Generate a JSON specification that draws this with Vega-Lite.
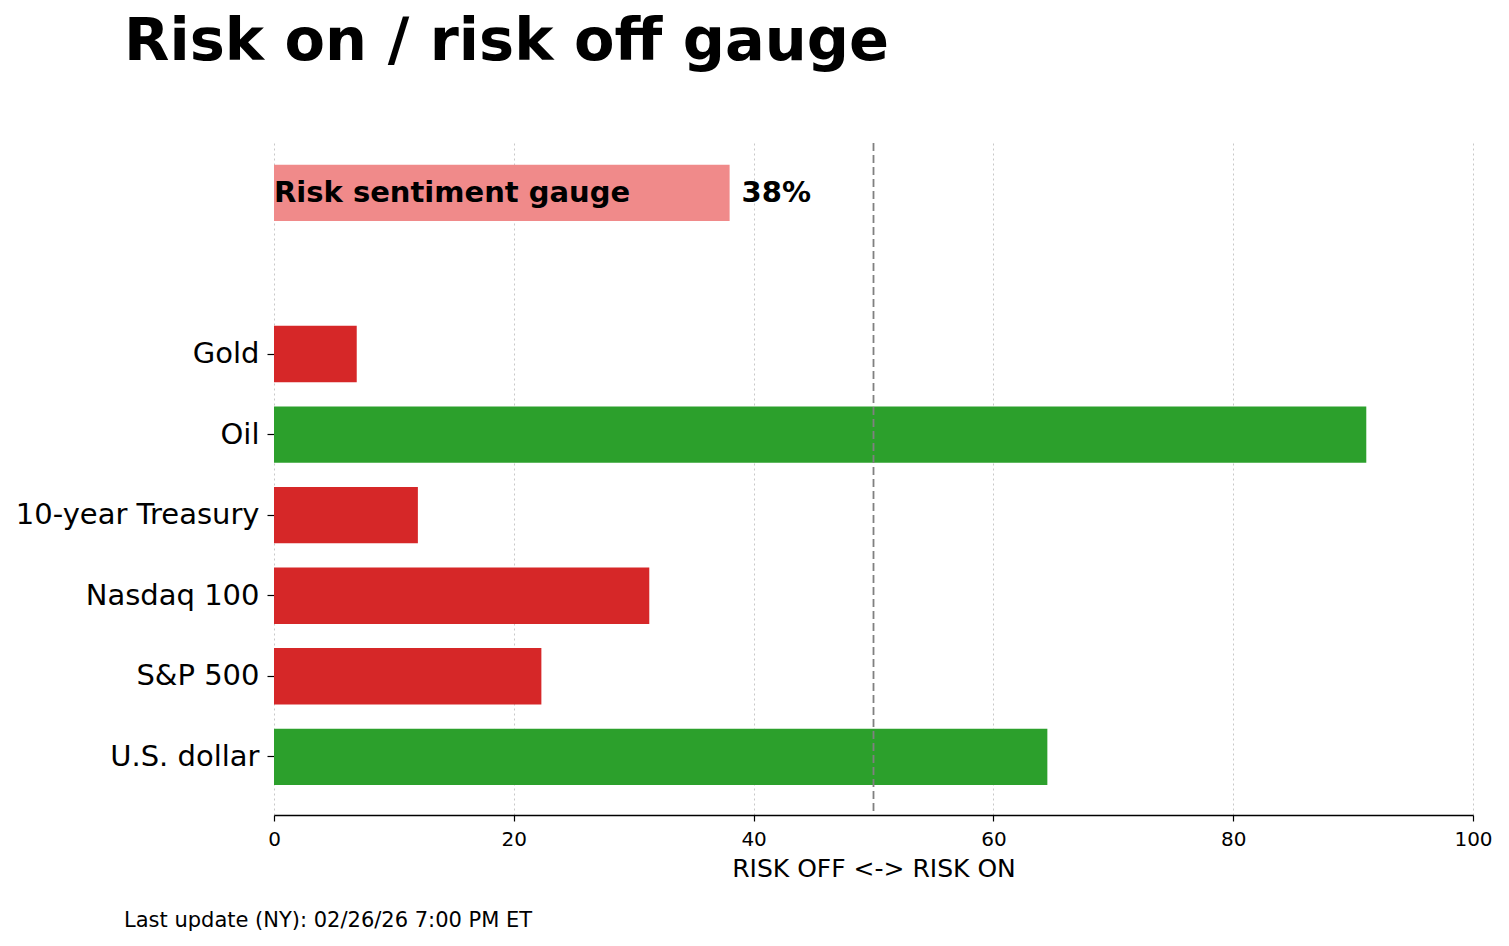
{
  "$schema": "https://vega.github.io/schema/vega-lite/v6.json",
  "background": "white",
  "padding": {"left": 15, "top": 13, "right": 20, "bottom": 10},
  "config": {
    "font": "DejaVu Sans",
    "view": {"stroke": null},
    "concat": {"spacing": 0}
  },
  "title": {
    "text": "Last update (NY): 02/26/26 7:00 PM ET",
    "orient": "bottom",
    "anchor": "start",
    "frame": "group",
    "fontSize": 21,
    "fontWeight": "normal",
    "color": "black",
    "dx": -150,
    "offset": 29
  },
  "vconcat": [
    {
      "width": 1199,
      "height": 672,
      "title": {
        "text": "Risk on / risk off gauge",
        "anchor": "start",
        "frame": "group",
        "fontSize": 59,
        "fontWeight": "bold",
        "color": "black",
        "dx": -150,
        "offset": 70
      },
      "data": {
        "values": [
          {"asset": "Risk sentiment gauge", "score": 38.0},
          {"asset": "Gold", "score": 6.9},
          {"asset": "Oil", "score": 91.1},
          {"asset": "10-year Treasury", "score": 12.0},
          {"asset": "Nasdaq 100", "score": 31.3},
          {"asset": "S&P 500", "score": 22.3},
          {"asset": "U.S. dollar", "score": 64.5}
        ]
      },
      "layer": [
        {
          "mark": {"type": "bar"},
          "encoding": {
            "y": {
              "field": "asset",
              "type": "nominal",
              "scale": {
                "domain": ["Risk sentiment gauge", "_gap", "Gold", "Oil", "10-year Treasury", "Nasdaq 100", "S&P 500", "U.S. dollar"],
                "paddingInner": 0.3,
                "paddingOuter": 0.32,
                "align": 0.42
              },
              "axis": {
                "values": ["Gold", "Oil", "10-year Treasury", "Nasdaq 100", "S&P 500", "U.S. dollar"],
                "title": null,
                "domain": false,
                "labelFontSize": 29,
                "labelLimit": 0,
                "labelColor": "black",
                "labelPadding": 8,
                "tickSize": 7,
                "tickColor": "black",
                "tickWidth": 1.2,
                "grid": false
              }
            },
            "x": {
              "field": "score",
              "type": "quantitative",
              "scale": {"domain": [0, 100], "nice": false},
              "axis": {
                "values": [0, 20, 40, 60, 80, 100],
                "title": "RISK OFF <-> RISK ON",
                "titleFontSize": 25,
                "titleFontWeight": "normal",
                "titleColor": "black",
                "titlePadding": 7,
                "labelFontSize": 20,
                "labelFlush": false,
                "labelColor": "black",
                "labelPadding": 8,
                "tickSize": 6,
                "tickColor": "black",
                "tickWidth": 1.2,
                "domainColor": "black",
                "domainWidth": 1.5,
                "grid": true,
                "gridColor": "#c8c8c8",
                "gridDash": [2, 3],
                "gridWidth": 1
              }
            },
            "color": {
              "condition": [
                {"test": "datum.asset === 'Risk sentiment gauge'", "value": "#f08a8a"},
                {"test": "datum.score >= 50", "value": "#2ca02c"}
              ],
              "value": "#d62728"
            }
          }
        },
        {
          "data": {"values": [{"ref": 50}]},
          "mark": {"type": "rule", "color": "#808080", "strokeDash": [8, 4], "strokeWidth": 1.8},
          "encoding": {"x": {"field": "ref", "type": "quantitative"}}
        },
        {
          "transform": [{"filter": "datum.asset === 'Risk sentiment gauge'"}],
          "mark": {"type": "text", "align": "left", "baseline": "middle", "fontSize": 29, "fontWeight": "bold", "color": "black"},
          "encoding": {
            "x": {"datum": 0},
            "y": {"field": "asset", "type": "nominal"},
            "text": {"field": "asset"}
          }
        },
        {
          "transform": [
            {"filter": "datum.asset === 'Risk sentiment gauge'"},
            {"calculate": "format(datum.score, '.0f') + '%'", "as": "pct"}
          ],
          "mark": {"type": "text", "align": "left", "baseline": "middle", "dx": 12, "fontSize": 29, "fontWeight": "bold", "color": "black"},
          "encoding": {
            "x": {"field": "score", "type": "quantitative"},
            "y": {"field": "asset", "type": "nominal"},
            "text": {"field": "pct"}
          }
        }
      ]
    }
  ]
}
